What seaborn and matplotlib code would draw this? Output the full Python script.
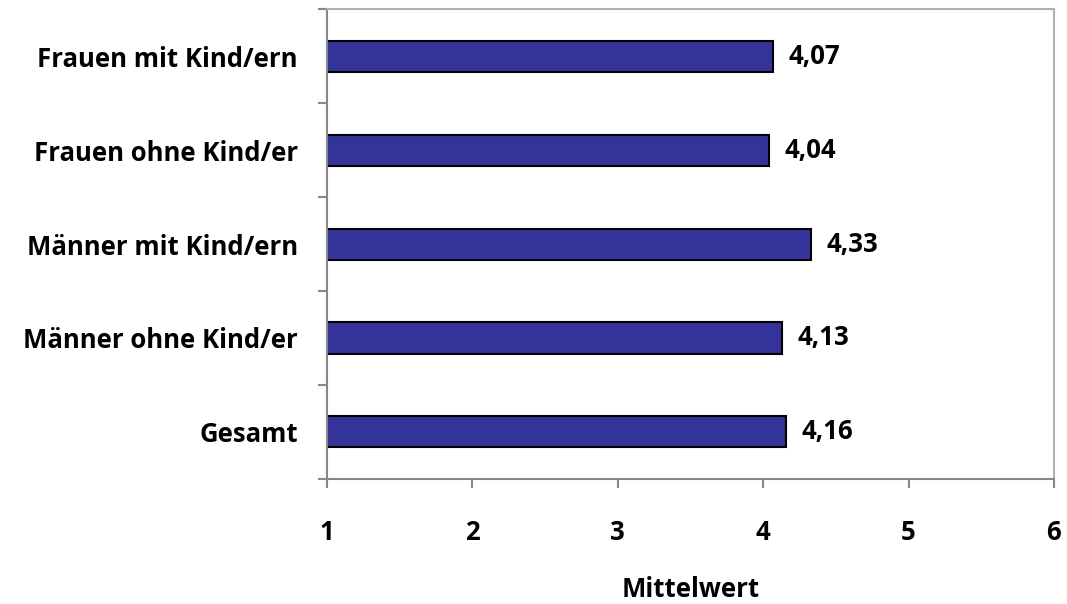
import seaborn as sns
import pandas as pd
import numpy as np
import matplotlib.pyplot as plt
from matplotlib.ticker import FixedLocator

groups = ['Frauen mit Kind/ern', 'Frauen ohne Kind/er', 'Männer mit Kind/ern',
          'Männer ohne Kind/er', 'Gesamt']
means = [4.07, 4.04, 4.33, 4.13, 4.16]
labels = ['4,07', '4,04', '4,33', '4,13', '4,16']

df = pd.DataFrame({'Gruppe': groups, 'Mittelwert': means})

sns.set_style('white')
plt.rcParams['font.family'] = ['Open Sans', 'DejaVu Sans']
plt.rcParams['font.weight'] = 'bold'
plt.rcParams['text.color'] = 'black'
plt.rcParams['xtick.labelcolor'] = 'black'
plt.rcParams['ytick.labelcolor'] = 'black'
plt.rcParams['axes.labelcolor'] = 'black'
fs = 18.5

fig = plt.figure(figsize=(10.67, 6.04), dpi=100)
ax = fig.add_axes([0.3065, 0.207, 0.6813, 0.778])

sns.barplot(data=df, x='Mittelwert', y='Gruppe', orient='h', color='#333399',
            width=0.33, edgecolor='black', linewidth=1.5, saturation=1, ax=ax)

ax.set_xlim(1, 6)
ax.set_ylim(4.5, -0.5)
ax.set_xticks([1, 2, 3, 4, 5, 6])
ax.set_xticklabels(['1', '2', '3', '4', '5', '6'], fontsize=fs, fontweight='bold')
ax.set_yticklabels(groups, fontsize=fs, fontweight='bold')
ax.tick_params(axis='y', which='major', length=0, pad=21)
ax.yaxis.set_minor_locator(FixedLocator(np.arange(-0.5, 5, 1)))
ax.tick_params(axis='y', which='minor', length=6.5, width=1.5, color='#888888', direction='out', left=True)
ax.tick_params(axis='x', which='major', length=6.5, width=1.5, color='#888888', direction='out', pad=22, bottom=True)

ax.set_xlabel('Mittelwert', fontsize=fs, fontweight='bold', labelpad=22)
ax.set_ylabel('')

for s in ['left', 'bottom']:
    ax.spines[s].set_color('#888888')
    ax.spines[s].set_linewidth(1.5)
for s in ['top', 'right']:
    ax.spines[s].set_visible(True)
    ax.spines[s].set_color('#b0b0b0')
    ax.spines[s].set_linewidth(1.5)

for i, (v, t) in enumerate(zip(means, labels)):
    ax.annotate(t, xy=(v, i), xytext=(11, 0), textcoords='offset points',
                va='center', ha='left', fontsize=fs, fontweight='bold')

fig.savefig('out.png', dpi=100)
